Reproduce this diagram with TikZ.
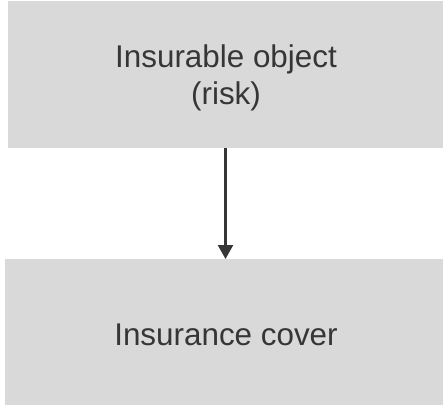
\documentclass[tikz,border=0pt]{standalone}
\usepackage{fontspec}
\setmainfont{Liberation Sans}
\usetikzlibrary{arrows.meta}
\definecolor{boxfill}{HTML}{D9D9D9}
\definecolor{ink}{HTML}{363636}
\begin{document}
\begin{tikzpicture}[x=1pt,y=-1pt,
  box/.style={fill=boxfill, draw=none, inner sep=0pt, outer sep=0pt},
  txt/.style={text=ink, align=center, inner sep=0pt, anchor=base,
    font=\fontsize{31.4}{37}\selectfont},
  flow/.style={draw=ink, line width=2.4pt,
    -{Triangle[width=15pt,length=14pt]}}]
  \useasboundingbox (0,0) rectangle (443,405);
  % the two boxes
  \node[box, minimum width=435pt, minimum height=147pt] (obj) at (225.5,74.5) {};
  \node[box, minimum width=438pt, minimum height=146pt] (cov) at (224,332) {};
  % their labels (base anchor sits on the last line's baseline)
  \node[txt] (objtext) at (226,104.5) {Insurable object\\(risk)};
  \node[txt] (covtext) at (226,345) {Insurance cover};
  % connector
  \draw[flow] (obj.south) -- (obj.south |- cov.north);
\end{tikzpicture}
\end{document}
